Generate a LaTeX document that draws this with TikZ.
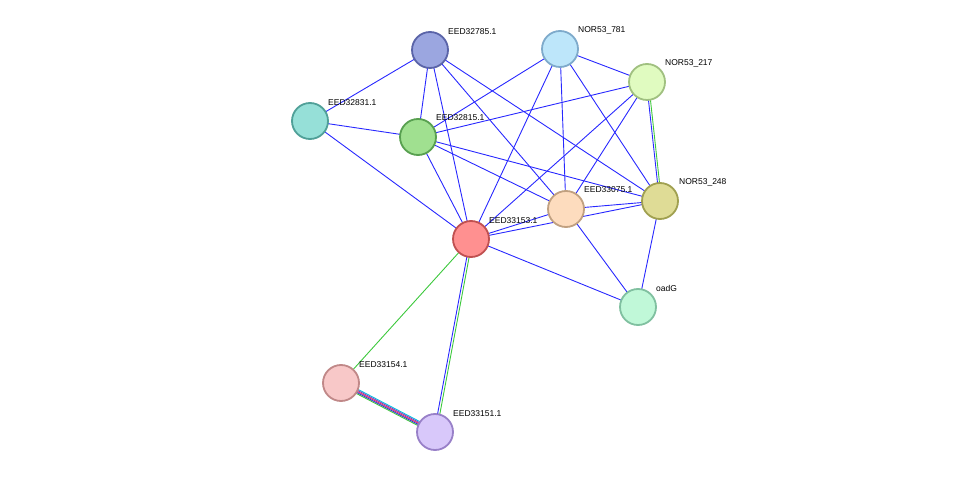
\documentclass[tikz,border=0pt]{standalone}
\usepackage{fontspec}
\setmainfont{Liberation Sans}
\begin{document}
\begin{tikzpicture}[x=1pt,y=-1pt,
  nd/.style={circle,minimum size=36pt,inner sep=0pt,line width=1.8pt},
  lb/.style={font=\fontsize{8.5}{10}\selectfont,anchor=south west,inner sep=0pt},
  e/.style={draw={rgb,255:red,40;green,40;blue,255},line width=0.9pt},
  g/.style={draw={rgb,255:red,60;green,200;blue,60},line width=0.9pt}]
\useasboundingbox (0,0) rectangle (975,478);
\def\N#1#2#3#4#5#6{\definecolor{f#1}{HTML}{#4}\definecolor{b#1}{HTML}{#5}
  \coordinate (#1) at (#2,#3);}
\N{a}{430}{50}{9BA6E0}{5A64A8}{}
\N{b}{560}{49}{BDE6FA}{7EAACB}{}
\N{c}{647}{82}{E0FBC0}{A0C080}{}
\N{d}{310}{121}{96E0D8}{50A098}{}
\N{f}{418}{137}{A0E090}{58A050}{}
\N{h}{566}{209}{FDDCBE}{C0A080}{}
\N{i}{660}{201}{DFDC96}{A0A050}{}
\N{j}{471}{239}{FF9090}{C05050}{}
\N{k}{638}{307}{C0F8D8}{80C0A0}{}
\N{l}{341}{383}{F8C8C8}{C08888}{}
\N{m}{435}{432}{D8C8FA}{9880C8}{}
% edges
\foreach \u/\v in {a/d,a/f,a/j,a/h,a/i,b/f,b/j,b/h,b/c,b/i,c/f,c/h,c/j,d/f,d/j,f/j,f/h,f/i,h/j,h/i,h/k,j/i,j/k,i/k}
  \path[e] (\u) -- (\v);
\path[g,transform canvas={shift={(1.5,0)}}] (c) -- (i);
\path[e,transform canvas={shift={(-0.5,0)}}] (c) -- (i);
\path[g,transform canvas={shift={(1.5,0)}}] (j) -- (m);
\path[e,transform canvas={shift={(-0.8,0)}}] (j) -- (m);
\path[g] (j) -- (l);
\foreach \k/\col in {-2/00C0E0,-1/8040C0,0/E03060,1/3030E0,2/40C040}{
  \definecolor{tmp\k}{HTML}{\col}
  \path[draw=tmp\k,line width=0.9pt,transform canvas={shift={(-1.1*\k*0.462,1.1*\k*0.887)}}] (l) -- (m);}
% nodes
\foreach \n in {a,b,c,d,f,h,i,j,k,l,m}
  \node[nd,fill=f\n,draw=b\n] (n\n) at (\n) {};
\node[lb] (ta) at (448,35) {EED32785.1};
\node[lb] (tb) at (578,34) {NOR53\_781};
\node[lb] (tc) at (665,67) {NOR53\_217};
\node[lb] (td) at (328,106) {EED32831.1};
\node[lb] (tf) at (436,121) {EED32815.1};
\node[lb] (th) at (584,193) {EED33075.1};
\node[lb] (ti) at (679,186) {NOR53\_248};
\node[lb] (tj) at (489,224) {EED33153.1};
\node[lb] (tk) at (656,292) {oadG};
\node[lb] (tl) at (359,368) {EED33154.1};
\node[lb] (tm) at (453,417) {EED33151.1};
\end{tikzpicture}
\end{document}
